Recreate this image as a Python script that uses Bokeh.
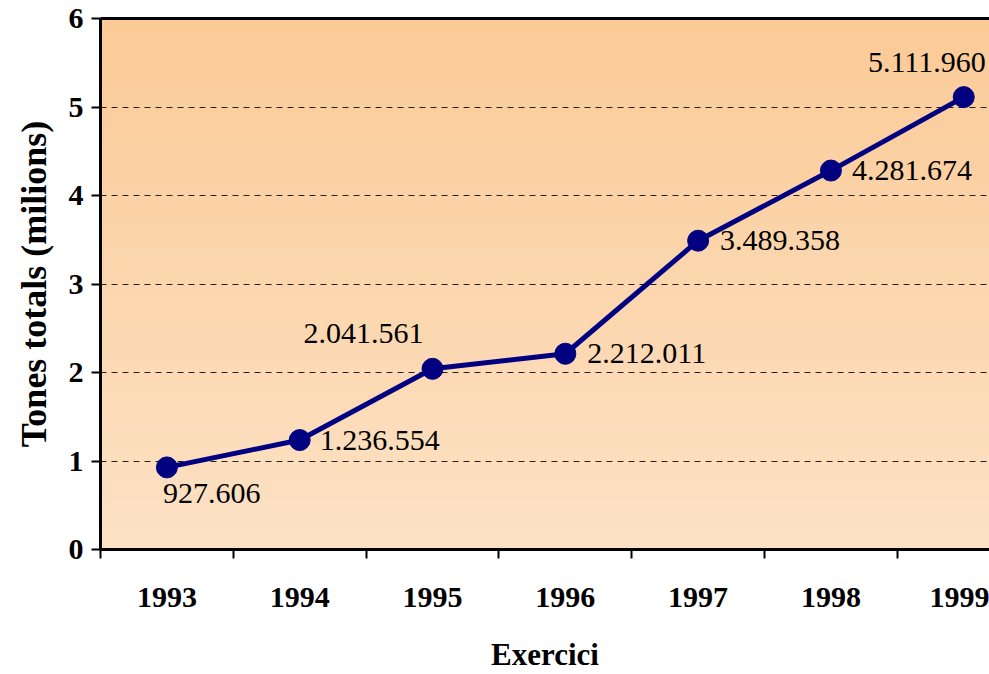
import numpy as np
from bokeh.plotting import figure
from bokeh.models import (Range1d, LinearAxis, FixedTicker, ColumnDataSource)
from bokeh.core.properties import value
from bokeh.embed import file_html
from bokeh.resources import INLINE

# ---- data ----
years = ["1993", "1994", "1995", "1996", "1997", "1998", "1999"]
tones_milions = [0.927606, 1.236554, 2.041561, 2.212011, 3.489358, 4.281674, 5.111960]
labels = ["927.606", "1.236.554", "2.041.561", "2.212.011", "3.489.358", "4.281.674", "5.111.960"]
y_ticks = [0, 1, 2, 3, 4, 5, 6]

# ---- layout / style ----
W, H = 989, 674
X_END = 6.694
FONT = "'Liberation Serif', 'Times New Roman', serif"
TFONT = "Liberation Serif"

xc = [i + 0.5 for i in range(len(years))]

p = figure(width=W, height=H, output_backend="svg", toolbar_location=None,
           x_range=Range1d(0, X_END), y_range=Range1d(0, 6),
           x_axis_location=None, y_axis_location=None,
           min_border_left=100, min_border_right=0, min_border_top=18, min_border_bottom=10)
p.outline_line_color = None
p.background_fill_color = "white"
p.border_fill_color = "white"

# gradient background of the plot area
n = 256
top = np.array([251, 203, 151])
bot = np.array([253, 226, 197])
t = np.linspace(0, 1, n)[:, None]
cols = (bot * (1 - t) + top * t).astype(np.uint32)
img = np.empty((n, 2), dtype=np.uint32)
view = img.view(dtype=np.uint8).reshape((n, 2, 4))
view[:, :, 0] = cols[:, 0][:, None]
view[:, :, 1] = cols[:, 1][:, None]
view[:, :, 2] = cols[:, 2][:, None]
view[:, :, 3] = 255
p.image_rgba(image=[img], x=0, y=0, dw=X_END, dh=6, level="image")

# grid
p.xgrid.visible = False
p.ygrid.ticker = FixedTicker(ticks=[1, 2, 3, 4, 5])
p.ygrid.grid_line_color = "#222222"
p.ygrid.grid_line_dash = "6 5"
p.ygrid.grid_line_width = 1

# axes
yax = LinearAxis(ticker=FixedTicker(ticks=y_ticks))
yax.axis_line_width = 3
yax.major_tick_out = 9
yax.major_tick_in = 0
yax.major_tick_line_width = 2
yax.minor_tick_out = 0
yax.major_label_text_font = FONT
yax.major_label_text_font_style = "bold"
yax.major_label_text_font_size = "30px"
yax.major_label_text_color = "black"
yax.major_label_standoff = 8
yax.axis_label = "Tones totals (milions)"
yax.axis_label_text_font = FONT
yax.axis_label_text_font_style = "bold"
yax.axis_label_text_font_size = "36px"
yax.axis_label_text_color = "black"
yax.axis_label_standoff = 12
p.add_layout(yax, "left")

xax = LinearAxis(ticker=FixedTicker(ticks=xc, minor_ticks=list(range(0, 8))))
xax.major_label_overrides = {v: s for v, s in zip(xc, years)}
xax.axis_line_width = 3
xax.major_tick_out = 0
xax.major_tick_in = 0
xax.minor_tick_out = 9
xax.minor_tick_in = 0
xax.minor_tick_line_width = 2
xax.major_label_text_font = FONT
xax.major_label_text_font_style = "bold"
xax.major_label_text_font_size = "30px"
xax.major_label_text_color = "black"
xax.major_label_standoff = 29
xax.axis_label = "Exercici"
xax.axis_label_text_font = FONT
xax.axis_label_text_font_style = "bold"
xax.axis_label_text_font_size = "31px"
xax.axis_label_text_color = "black"
xax.axis_label_standoff = 27
p.add_layout(xax, "below")

topax = LinearAxis(ticker=FixedTicker(ticks=[]))
topax.axis_line_width = 3
topax.major_tick_out = 0
topax.major_tick_in = 0
topax.minor_tick_out = 0
topax.major_label_standoff = 0
p.add_layout(topax, "above")

# line + markers
src = ColumnDataSource(dict(x=xc, y=tones_milions, lab=labels))
p.line("x", "y", source=src, line_color="#000080", line_width=5)
p.scatter("x", "y", source=src, size=21, fill_color="#000080", line_color="#000080")

# data labels (individual placement around each point)
x_off = [-4, 20, -9, 22, 22, 21, 22]
y_off = [17, 0, -35, 0, 0, 0, -35]
align = ["left", "left", "right", "left", "left", "left", "right"]
base = ["top", "middle", "middle", "middle", "middle", "middle", "middle"]
for i in range(len(years)):
    p.text(x=[xc[i]], y=[tones_milions[i]], text=[labels[i]],
           x_offset=x_off[i], y_offset=y_off[i],
           text_align=align[i], text_baseline=base[i],
           text_font=value(TFONT), text_font_size="30px", text_color="black")

open("out.html", "w").write(file_html(p, INLINE))
